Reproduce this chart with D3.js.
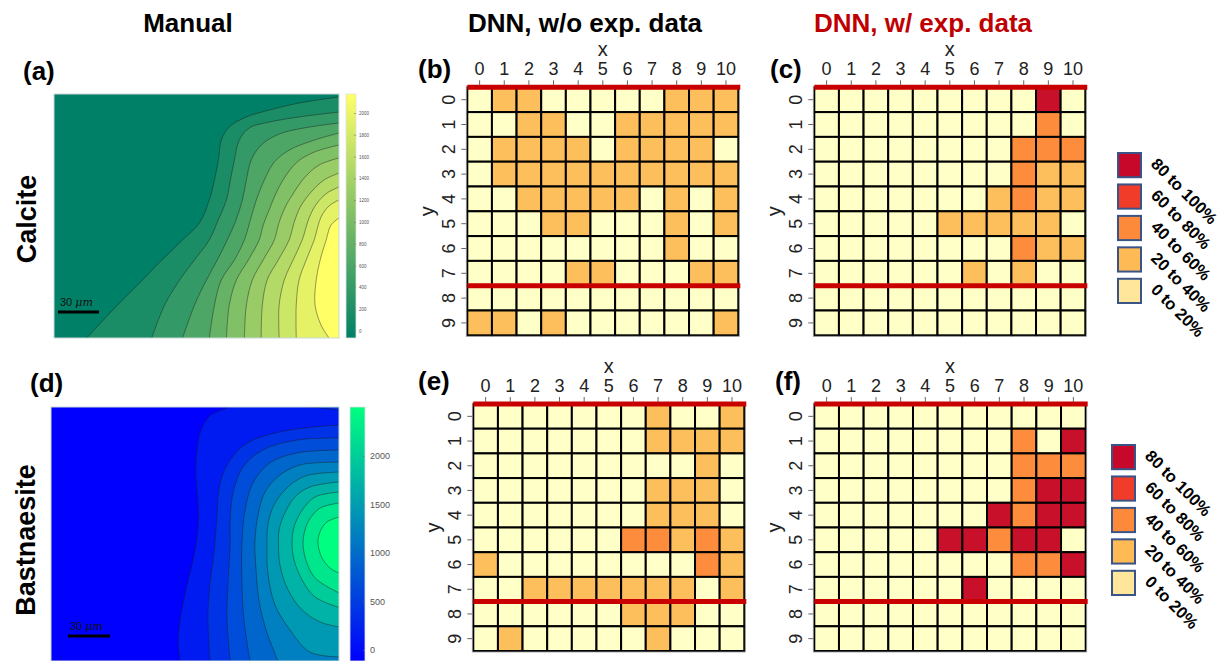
<!DOCTYPE html>
<html>
<head>
<meta charset="utf-8">
<script src="https://cdn.jsdelivr.net/npm/d3@7"></script>
<style>
  body { margin: 0; background: #fff; }
  svg { display: block; font-family: "Liberation Sans", Arial, sans-serif; }
</style>
</head>
<body>
<svg id="fig" width="1227" height="661"></svg>
<script>
// ---- data ----
const xLabels = ["0","1","2","3","4","5","6","7","8","9","10"];
const yLabels = ["0","1","2","3","4","5","6","7","8","9"];
const classLabels = ["0 to 20%", "20 to 40%", "40 to 60%", "60 to 80%", "80 to 100%"];

// class index per cell (0 = 0-20%, ... 4 = 80-100%), rows y = 0..9, columns x = 0..10
const calciteNoExp = [
  [0,1,1,0,0,0,0,0,1,1,1],
  [0,0,1,1,0,0,1,1,1,1,1],
  [0,1,1,1,1,0,1,1,1,1,0],
  [0,1,1,1,1,1,1,1,1,1,1],
  [0,0,1,1,1,1,1,0,1,0,1],
  [0,0,0,1,1,0,0,0,1,0,1],
  [0,0,0,0,0,0,0,0,1,0,0],
  [0,0,0,0,1,1,0,0,0,1,1],
  [0,0,0,0,0,0,0,0,0,0,0],
  [1,1,0,1,0,0,0,0,0,0,1]
];
const calciteExp = [
  [0,0,0,0,0,0,0,0,0,4,0],
  [0,0,0,0,0,0,0,0,0,2,0],
  [0,0,0,0,0,0,0,0,2,2,2],
  [0,0,0,0,0,0,0,0,2,1,1],
  [0,0,0,0,0,0,0,1,2,1,1],
  [0,0,0,0,0,1,1,1,1,1,0],
  [0,0,0,0,0,0,0,0,2,1,1],
  [0,0,0,0,0,0,1,0,1,0,0],
  [0,0,0,0,0,0,0,0,0,0,0],
  [0,0,0,0,0,0,0,0,0,0,0]
];
const bastNoExp = [
  [0,0,0,0,0,0,0,1,0,0,1],
  [0,0,0,0,0,0,0,1,1,1,1],
  [0,0,0,0,0,0,0,0,0,1,0],
  [0,0,0,0,0,0,0,1,1,1,0],
  [0,0,0,0,0,0,0,1,1,1,0],
  [0,0,0,0,0,0,2,2,1,2,1],
  [1,0,0,0,0,0,0,0,0,2,1],
  [0,0,1,1,1,1,1,1,1,0,1],
  [0,0,0,0,0,0,1,1,1,0,0],
  [0,1,0,0,0,0,0,1,0,0,0]
];
const bastExp = [
  [0,0,0,0,0,0,0,0,0,0,0],
  [0,0,0,0,0,0,0,0,2,0,4],
  [0,0,0,0,0,0,0,0,2,2,2],
  [0,0,0,0,0,0,0,0,2,4,4],
  [0,0,0,0,0,0,0,4,2,4,4],
  [0,0,0,0,0,4,4,2,4,4,0],
  [0,0,0,0,0,0,0,0,2,2,4],
  [0,0,0,0,0,0,4,0,0,0,0],
  [0,0,0,0,0,0,0,0,0,0,0],
  [0,0,0,0,0,0,0,0,0,0,0]
];

// manual maps: contour lines, in % of map width / height
const calciteTicks = [0,200,400,600,800,1000,1200,1400,1600,1800,2000];
const calciteLines = [
  {level: 200,  pts: [[100,1.2],[86,3.7],[75.5,6.6],[67.5,9.4],[61.5,13.5],[58.7,18.9],[57.7,27],[56.3,35.2],[54.5,43.4],[51,52.9],[45.1,59.8],[37.1,68.9],[31.1,76.2],[21.3,87.7],[11.5,100]]},
  {level: 400,  pts: [[100,7.4],[86,9.4],[75.5,11.5],[68.5,13.9],[65,18.9],[63.3,27],[61.9,35.2],[60.5,43.4],[57.3,52.5],[54.5,59.8],[49.3,68],[44.1,76.2],[38.8,86.5],[34.3,100]]},
  {level: 600,  pts: [[100,11.9],[87.8,13.9],[79,16.4],[72.7,20.9],[69.2,27],[67.5,35.2],[66.1,43.4],[63.6,52.5],[60.8,59.8],[57.3,68],[53.5,76.2],[49.3,86.5],[45.1,100]]},
  {level: 800,  pts: [[100,16],[91.3,18.9],[82.5,23],[77.3,27.9],[73.8,35.2],[71,43.4],[68.9,51.6],[66.8,59.8],[63.3,68],[58.7,76.2],[56.3,86.5],[54.5,100]]},
  {level: 1000, pts: [[100,20.9],[91.3,23.8],[85.3,27.9],[80.8,34.4],[77.6,41.4],[75.5,47.5],[73.4,53.7],[72,59.8],[68.2,68],[64,76.2],[61.5,86.5],[60.5,100]]},
  {level: 1200, pts: [[100,26.2],[93,29.1],[87.8,34.4],[83.6,41.4],[81.5,45.5],[79,52.5],[77.3,59.8],[73.4,68],[69.6,76.2],[67.5,86.5],[66.8,100]]},
  {level: 1400, pts: [[100,32.4],[94.8,35.2],[90.2,40.2],[86.4,46.3],[84.3,52.5],[82.5,59.8],[78.7,68],[74.8,76.2],[73.1,86.5],[72.7,100]]},
  {level: 1600, pts: [[100,38.1],[95.8,40.6],[92.3,44.7],[89.5,50.8],[87.1,59.8],[83.9,68],[80.8,76.2],[79,86.5],[79,100]]},
  {level: 1800, pts: [[100,43.4],[96.5,45.9],[93.7,50.4],[91.3,59.8],[88.5,68],[86,76.2],[85,86.5],[85,100]]},
  {level: 2000, pts: [[100,50.8],[97.2,53.7],[95.5,59.8],[93.4,68],[92,76.2],[91.6,86.5],[93.7,94.7],[96.5,100]]}
];

const bastTicks = [0,500,1000,1500,2000];
const bastLines = [
  {level: 250,  pts: [[62.2,0],[55.2,3.5],[52.1,9.1],[50.7,16.9],[50.3,26.8],[51,36.6],[51,48.4],[49.7,58.3],[47.2,70.1],[45.1,81.9],[44.1,91.7],[44.8,100]]},
  {level: 500,  pts: [[88.9,0],[94.1,0.4],[100,1.2]]},
  {level: 500,  pts: [[100,7.1],[91,7.9],[79.5,9.8],[68.1,14.2],[62.2,20.9],[58.7,29.9],[57.6,43.3],[56.9,53.5],[56.3,60.2],[55.2,69.3],[54.5,82.7],[55.2,100]]},
  {level: 750,  pts: [[100,12.2],[85.4,13],[73.6,16.9],[66.7,23.6],[63.2,33.9],[62.2,44.5],[62.2,53.5],[61.5,69.3],[61.1,82.7],[62.2,100]]},
  {level: 1000, pts: [[100,16.9],[85.4,18.1],[76,22],[70.1,29.9],[67.4,40.6],[66.3,53.5],[66.3,69.3],[67,83.9],[69.1,100]]},
  {level: 1250, pts: [[100,21.7],[86.5,22.8],[79.5,26.8],[74.3,33.5],[71.9,42.5],[70.8,53.5],[71.2,64.2],[72.2,76],[74.7,87.8],[78.8,100]]},
  {level: 1500, pts: [[100,25.6],[88.2,27.2],[81.9,31.9],[77.4,38.6],[75.3,46.5],[75,53.5],[75.3,65.4],[77.8,78],[83,87.8],[89.9,96.5],[100,98.4]]},
  {level: 1750, pts: [[100,29.5],[89.9,31.5],[84.7,35.4],[80.9,42.5],[79.2,48.4],[79,53.5],[79.5,62.2],[82.3,72],[87.2,79.9],[93.4,84.6],[100,86.6]]},
  {level: 2000, pts: [[100,33.5],[91.7,35.4],[87.2,40.6],[84.4,47.2],[83.7,53.5],[84.4,60.2],[87.2,68.1],[91.7,74.8],[100,78.9]]},
  {level: 2250, pts: [[100,37.8],[93.4,39.8],[89.6,44.5],[88.2,48.4],[87.5,53.5],[88.5,60.2],[91.7,67.3],[100,73.2]]},
  {level: 2500, pts: [[100,43.3],[95.8,45.3],[93.4,49.2],[92.7,53.5],[94.1,59.4],[96.9,63.4],[100,65.4]]}
];

// ---- colours ----
const cellColors = ["#ffffc8", "#fdbf5c", "#fd8d3c", "#f03b20", "#c8102a"];
const legendColors = ["#ffe69a", "#feba55", "#fd8a3a", "#f03c28", "#c8082a"];
const summer = d3.scaleLinear().domain([0, 2000]).range(["#008066", "#ffff66"]);
const winter = d3.scaleLinear().domain([0, 2500]).range(["#0000ff", "#00ff80"]);

const svg = d3.select("#fig");
const defs = svg.append("defs");

// ---- headings ----
const titles = [
  {text: "Manual", x: 188, color: "#000"},
  {text: "DNN, w/o exp. data", x: 585, color: "#000"},
  {text: "DNN, w/ exp. data", x: 923, color: "#c00000"}
];
svg.selectAll("text.title").data(titles).enter().append("text")
  .attr("class", "title")
  .attr("x", d => d.x).attr("y", 32)
  .attr("text-anchor", "middle")
  .attr("font-size", 26).attr("font-weight", "bold")
  .attr("fill", d => d.color)
  .text(d => d.text);

const panelLabels = [
  {t: "(a)", x: 23, y: 80}, {t: "(b)", x: 418, y: 78}, {t: "(c)", x: 770, y: 78},
  {t: "(d)", x: 30, y: 392}, {t: "(e)", x: 418, y: 390}, {t: "(f)", x: 775, y: 390}
];
svg.selectAll("text.plab").data(panelLabels).enter().append("text")
  .attr("class", "plab")
  .attr("x", d => d.x).attr("y", d => d.y)
  .attr("font-size", 26).attr("font-weight", "bold")
  .text(d => d.t);

[{t: "Calcite", x: 36, y: 219}, {t: "Bastnaesite", x: 35, y: 540}].forEach(d => {
  svg.append("text")
    .attr("transform", `translate(${d.x},${d.y}) rotate(-90)`)
    .attr("text-anchor", "middle")
    .attr("font-size", 27).attr("font-weight", "bold")
    .text(d.t);
});

// ---- manual contour maps ----
function drawContourMap(opt) {
  const xs = d3.scaleLinear().domain([0, 100]).range([opt.x0, opt.x1]);
  const ys = d3.scaleLinear().domain([0, 100]).range([opt.y0, opt.y1]);
  const g = svg.append("g");

  defs.append("clipPath").attr("id", opt.id)
    .append("rect")
    .attr("x", opt.x0).attr("y", opt.y0)
    .attr("width", opt.x1 - opt.x0).attr("height", opt.y1 - opt.y0);

  const inner = g.append("g").attr("clip-path", `url(#${opt.id})`);
  inner.append("rect")
    .attr("x", opt.x0).attr("y", opt.y0)
    .attr("width", opt.x1 - opt.x0).attr("height", opt.y1 - opt.y0)
    .attr("fill", opt.color(0));

  const line = d3.line()
    .x(d => xs(d[0])).y(d => ys(d[1]))
    .curve(d3.curveCatmullRom.alpha(0.5));

  const region = d => {
    let p = line(d.pts);
    const first = d.pts[0], last = d.pts[d.pts.length - 1];
    if (last[1] === 100) p += `L${xs(100)},${ys(100)}`;
    if (first[1] === 0) p += `L${xs(100)},${ys(0)}`;
    return p + "Z";
  };

  inner.selectAll("path.band").data(opt.lines).enter().append("path")
    .attr("class", "band")
    .attr("d", region)
    .attr("fill", d => opt.color(d.level));

  inner.selectAll("path.iso").data(opt.lines).enter().append("path")
    .attr("class", "iso")
    .attr("d", d => line(d.pts))
    .attr("fill", "none")
    .attr("stroke", "#1a1a1a")
    .attr("stroke-opacity", 0.55)
    .attr("stroke-width", 0.8);

  g.append("rect")
    .attr("x", opt.x0).attr("y", opt.y0)
    .attr("width", opt.x1 - opt.x0).attr("height", opt.y1 - opt.y0)
    .attr("fill", "none").attr("stroke", "#c8d8d8").attr("stroke-width", 1);

  // colour bar
  const cb = d3.scaleLinear().domain(opt.cbDomain).range(opt.cbRange);
  const gradId = opt.id + "-grad";
  const grad = defs.append("linearGradient").attr("id", gradId)
    .attr("x1", 0).attr("x2", 0).attr("y1", 1).attr("y2", 0);
  grad.append("stop").attr("offset", 0).attr("stop-color", opt.color(0));
  grad.append("stop").attr("offset", 1).attr("stop-color", opt.color(opt.colorMax));
  g.append("rect")
    .attr("x", opt.cbX).attr("y", opt.y0)
    .attr("width", opt.cbW).attr("height", opt.cbBottom - opt.y0)
    .attr("fill", `url(#${gradId})`)
    .attr("stroke", "#e0e0e0").attr("stroke-width", 0.8);

  const ax = g.append("g")
    .attr("transform", `translate(${opt.cbX + opt.cbW - 2},0)`)
    .call(d3.axisRight(cb).tickValues(opt.ticks).tickSize(2).tickPadding(opt.tickPad)
      .tickFormat(d3.format("d")));
  ax.select(".domain").remove();
  ax.selectAll("line").attr("stroke", "#777").attr("stroke-width", 0.6);
  ax.selectAll("text").attr("fill", "#555")
    .attr("font-size", opt.tickFont).attr("font-family", "Liberation Sans, Arial, sans-serif");

  // scale bar
  g.append("line")
    .attr("x1", opt.sbX).attr("x2", opt.sbX + opt.sbLen)
    .attr("y1", opt.sbY).attr("y2", opt.sbY)
    .attr("stroke", "#000").attr("stroke-width", 3);
  const sbText = g.append("text")
    .attr("x", opt.sbX + 2).attr("y", opt.sbY - 6)
    .attr("font-size", 11).attr("fill", "#111");
  sbText.append("tspan").text("30 ");
  sbText.append("tspan").attr("font-family", "DejaVu Serif, serif").attr("font-style", "italic").text("μm");
}

drawContourMap({
  id: "clipA", x0: 54, x1: 339, y0: 94, y1: 338,
  lines: calciteLines, color: summer, colorMax: 2175,
  cbX: 346, cbW: 10, cbBottom: 338,
  cbDomain: [0, 2000], cbRange: [331, 113],
  ticks: calciteTicks, tickPad: 3, tickFont: 4.5,
  sbX: 58, sbY: 312, sbLen: 41
});

drawContourMap({
  id: "clipD", x0: 51, x1: 339, y0: 407, y1: 661,
  lines: bastLines, color: winter, colorMax: 2500,
  cbX: 350, cbW: 15, cbBottom: 661,
  cbDomain: [0, 2000], cbRange: [650, 456],
  ticks: bastTicks, tickPad: 5, tickFont: 9,
  sbX: 68, sbY: 636, sbLen: 42
});

// ---- DNN probability grids ----
function drawGrid(data, box) {
  const x = d3.scaleBand().domain(xLabels).range([box.left, box.right]);
  const y = d3.scaleBand().domain(yLabels).range([box.top, box.bottom]);
  const g = svg.append("g");

  const cells = [];
  data.forEach((row, yi) => row.forEach((c, xi) => cells.push({x: xLabels[xi], y: yLabels[yi], c})));

  g.selectAll("rect.cell").data(cells).enter().append("rect")
    .attr("class", "cell")
    .attr("x", d => x(d.x)).attr("y", d => y(d.y))
    .attr("width", x.bandwidth()).attr("height", y.bandwidth())
    .attr("fill", d => cellColors[d.c])
    .attr("stroke", "#000").attr("stroke-width", 2);

  g.append("rect")
    .attr("x", box.left - 1).attr("y", box.top - 1)
    .attr("width", box.right - box.left + 2).attr("height", box.bottom - box.top + 2)
    .attr("fill", "none").attr("stroke", "#999").attr("stroke-width", 0.8);

  // red separators: top edge and between y = 7 and y = 8
  g.selectAll("line.sep").data([yLabels[0], yLabels[8]]).enter().append("line")
    .attr("class", "sep")
    .attr("x1", box.left).attr("x2", box.right + 2)
    .attr("y1", d => y(d)).attr("y2", d => y(d))
    .attr("stroke", "#c80000").attr("stroke-width", 5);

  const xa = g.append("g")
    .attr("transform", `translate(0,${box.top - 2})`)
    .call(d3.axisTop(x).tickSize(5).tickPadding(5));
  xa.select(".domain").remove();
  xa.selectAll("line").attr("stroke", "#666");
  xa.selectAll("text").attr("font-size", 18).attr("fill", "#222")
    .attr("font-family", "Liberation Sans, Arial, sans-serif");

  const ya = g.append("g")
    .attr("transform", `translate(${box.left - 1},0)`)
    .call(d3.axisLeft(y).tickSize(5).tickPadding(0));
  ya.select(".domain").remove();
  ya.selectAll("line").attr("stroke", "#666");
  ya.selectAll("text")
    .attr("x", 0).attr("dy", "0.35em")
    .attr("transform", "translate(-18,0) rotate(-90)")
    .attr("text-anchor", "middle")
    .attr("font-size", 18).attr("fill", "#222")
    .attr("font-family", "Liberation Sans, Arial, sans-serif");

  g.append("text")
    .attr("x", (box.left + box.right) / 2).attr("y", box.top - 31)
    .attr("text-anchor", "middle").attr("font-size", 20).attr("fill", "#222")
    .text("x");
  g.append("text")
    .attr("transform", `translate(${box.left - 33},${(box.top + box.bottom) / 2}) rotate(-90)`)
    .attr("text-anchor", "middle").attr("font-size", 20).attr("fill", "#222")
    .text("y");
}

drawGrid(calciteNoExp, {left: 467.3, right: 738.3, top: 87.3, bottom: 335.3});
drawGrid(calciteExp,   {left: 814.3, right: 1085.3, top: 87.3, bottom: 335.3});
drawGrid(bastNoExp,    {left: 473.3, right: 744.3, top: 404, bottom: 651});
drawGrid(bastExp,      {left: 814.3, right: 1085.7, top: 404, bottom: 651});

// ---- legends ----
function drawLegend(left, top) {
  const order = d3.range(classLabels.length).reverse();
  const ly = d3.scaleBand().domain(order).range([top, top + 150]).paddingInner(0.23);
  const g = svg.append("g");
  g.selectAll("rect").data(order).enter().append("rect")
    .attr("x", left).attr("y", d => ly(d))
    .attr("width", 23).attr("height", ly.bandwidth())
    .attr("fill", d => legendColors[d])
    .attr("stroke", "#3a5487").attr("stroke-width", 2);
  g.selectAll("text").data(order).enter().append("text")
    .attr("transform", d => `translate(${left + 32},${ly(d) + 12}) rotate(45)`)
    .attr("font-size", 16.5).attr("font-weight", "bold")
    .text(d => classLabels[d]);
}
drawLegend(1118, 153);
drawLegend(1112, 445);
</script>
</body>
</html>
